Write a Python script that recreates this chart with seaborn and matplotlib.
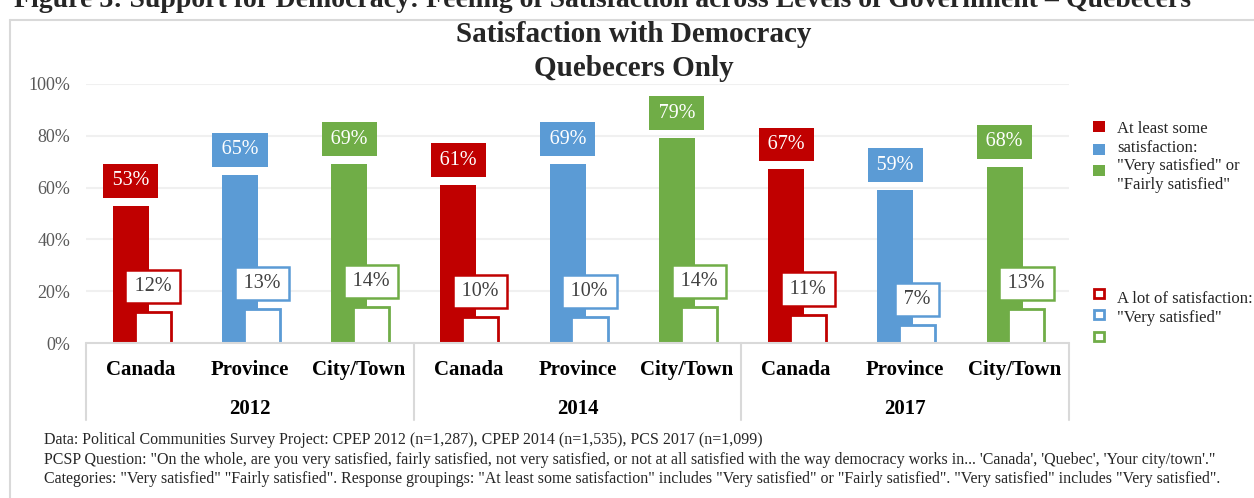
import numpy as np
import pandas as pd
import matplotlib
matplotlib.use("Agg")
import matplotlib.pyplot as plt
import matplotlib.transforms as mtransforms
from matplotlib.patches import Rectangle
from matplotlib.lines import Line2D
import seaborn as sns

# ---- data -------------------------------------------------------------
years = ["2012", "2014", "2017"]
levels = ["Canada", "Province", "City/Town"]
some_satisfaction = [53, 65, 69, 61, 69, 79, 67, 59, 68]   # "Very" or "Fairly satisfied"
very_satisfied = [12, 13, 14, 10, 10, 14, 11, 7, 13]        # "Very satisfied"
y_ticks = [0, 20, 40, 60, 80, 100]

palette = {"Canada": "#C00000", "Province": "#5B9BD5", "City/Town": "#70AD47"}

# ---- style ------------------------------------------------------------
sns.set_theme(style="white")
plt.rcParams["font.family"] = ["Liberation Serif", "DejaVu Serif"]

W, H = 1254, 498
fig = plt.figure(figsize=(W / 100, H / 100), dpi=100)


def fx(px):
    return px / W


def fy(py):
    return 1 - py / H


ax = fig.add_axes([fx(86), fy(343), fx(1069) - fx(86), fy(84) - fy(343)])

df = pd.DataFrame({
    "year": np.repeat(years, len(levels)),
    "level": levels * len(years),
    "some": some_satisfaction,
    "very": very_satisfied,
})
df["slot"] = np.arange(len(df))
df["pos_some"] = df["slot"] - 0.09
df["pos_very"] = df["slot"] + 0.11

# solid bars: at least some satisfaction
sns.barplot(data=df, x="pos_some", y="some", hue="level", palette=palette,
            native_scale=True, dodge=False, width=0.33, legend=False,
            linewidth=0, saturation=1, ax=ax, zorder=2)
n_solid = len(ax.patches)

# outlined bars: a lot of satisfaction
sns.barplot(data=df, x="pos_very", y="very", hue="level", palette=palette,
            native_scale=True, dodge=False, width=0.33, legend=False,
            linewidth=0, saturation=1, ax=ax, zorder=3)
for p in ax.patches[n_solid:]:
    c = p.get_facecolor()
    p.set_facecolor("white")
    p.set_edgecolor(c)
    p.set_linewidth(2)
    p.set_zorder(3)

ax.set_xlim(-0.5, len(df) - 0.5)
ax.set_ylim(0, 100)
ax.set_xlabel("")
ax.set_ylabel("")
ax.set_xticks([])
ax.set_yticks(y_ticks)
ax.set_yticklabels([f"{t}%" for t in y_ticks], color="#595959", fontsize=13)
ax.tick_params(axis="y", length=0, pad=11.5)
for s in ax.spines.values():
    s.set_visible(False)
for t in y_ticks[1:]:
    ax.axhline(t, color="#F0F0F0", lw=1.5, zorder=0)
ax.axhline(0, color="#D9D9D9", lw=1.5, zorder=4, clip_on=False)

# ---- value labels -----------------------------------------------------
px_to_pt = 0.72
hs = "\u200a"  # hair space to widen the label boxes a little
for _, r in df.iterrows():
    col = palette[r["level"]]
    ax.annotate(f"{hs}{r['some']}%{hs}", (r["pos_some"], r["some"]),
                xytext=(0, 15.5 * px_to_pt), textcoords="offset points",
                ha="center", va="bottom", fontsize=14.5, color="white",
                zorder=6,
                bbox=dict(boxstyle="square,pad=0.37", fc=col, ec="none"))
    ax.annotate(f"{hs}{r['very']}%{hs}", (r["pos_very"], r["very"]),
                xytext=(0, 16 * px_to_pt), textcoords="offset points",
                ha="center", va="bottom", fontsize=14.5, color="#404040",
                zorder=6,
                bbox=dict(boxstyle="square,pad=0.35", fc="white", ec=col,
                          lw=1.8))

# ---- two-level category axis -------------------------------------------
trans = mtransforms.blended_transform_factory(ax.transData, ax.transAxes)
px_ax = 259.0  # axes height in pixels
for _, r in df.iterrows():
    ax.text(r["slot"], -(370 - 343) / px_ax, r["level"], transform=trans,
            ha="center", va="center", fontsize=15, fontweight="bold",
            color="black")
for g, yr in enumerate(years):
    ax.text(g * 3 + 1, -(409 - 343) / px_ax, yr, transform=trans,
            ha="center", va="center", fontsize=15, fontweight="bold",
            color="black")
for b in [-0.5, 2.5, 5.5, 8.5]:
    ax.add_line(Line2D([b, b], [0, -(420 - 343) / px_ax], transform=trans,
                       color="#D9D9D9", lw=1.5, clip_on=False))

# ---- titles -----------------------------------------------------------
fig.text(fx(634), fy(35), "Satisfaction with Democracy", ha="center",
         va="center", fontsize=21, fontweight="bold")
fig.text(fx(634), fy(68), "Quebecers Only", ha="center", va="center",
         fontsize=21, fontweight="bold")
fig.text(fx(14), fy(7), "Figure 3: Support for Democracy: Feeling of Satisfaction "
         "across Levels of Government \u2013 Quebecers", ha="left",
         va="baseline", fontsize=20, fontweight="bold")

# chart frame
fig.add_artist(Line2D([fx(10), 1], [fy(20), fy(20)], color="#D9D9D9", lw=1.5))
fig.add_artist(Line2D([fx(10), fx(10)], [fy(20), 0], color="#D9D9D9", lw=1.5))

# ---- legend -----------------------------------------------------------
sq_w, sq_h = 12, 11
for i, lv in enumerate(levels):
    y0 = [121, 144, 165][i]
    fig.add_artist(Rectangle((fx(1093), fy(y0 + sq_h)), sq_w / W, sq_h / H,
                             fc=palette[lv], ec="none"))
    y1 = [288, 309, 331][i]
    fig.add_artist(Rectangle((fx(1094), fy(y1 + sq_h - 1)), (sq_w - 2) / W,
                             (sq_h - 2) / H, fc="white", ec=palette[lv],
                             lw=2))
for txt, yy in zip(["At least some", "satisfaction:", '"Very satisfied" or',
                    '"Fairly satisfied"'], [129, 148, 166.5, 185]):
    fig.text(fx(1117), fy(yy), txt, ha="left", va="center", fontsize=12)
for txt, yy in zip(["A lot of satisfaction:", '"Very satisfied"'], [299, 318]):
    fig.text(fx(1117), fy(yy), txt, ha="left", va="center", fontsize=12)

# ---- notes ------------------------------------------------------------
notes = [
    "Data: Political Communities Survey Project: CPEP 2012 (n=1,287), CPEP 2014 (n=1,535), PCS 2017 (n=1,099)",
    "PCSP Question: \"On the whole, are you very satisfied, fairly satisfied, not very satisfied, or not at all satisfied with the way democracy works in... 'Canada', 'Quebec', 'Your city/town'.\"",
    "Categories: \"Very satisfied\" \"Fairly satisfied\". Response groupings: \"At least some satisfaction\" includes \"Very satisfied\" or \"Fairly satisfied\". \"Very satisfied\" includes \"Very satisfied\".",
]
for txt, yy in zip(notes, [440, 459.5, 479]):
    fig.text(fx(44), fy(yy), txt, ha="left", va="center", fontsize=11.5)

fig.savefig("out.png", dpi=100)
